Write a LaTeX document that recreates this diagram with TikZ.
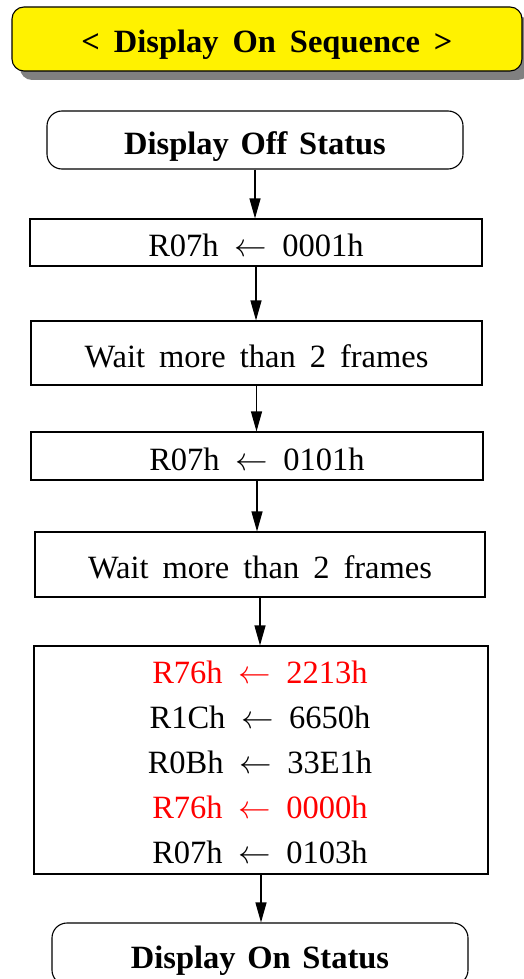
\documentclass[tikz,border=0pt]{standalone}
\usepackage{fix-cm}
\usepackage{fontspec}
\setmainfont{Liberation Serif}
\usetikzlibrary{arrows.meta,shadows}
\newcommand{\gp}{\hspace{0.43em}}
\newcommand{\gb}{\hspace{0.36em}}
\newcommand{\ar}{\hspace{0.48em}$\leftarrow$\hspace{0.48em}}
\begin{document}
\begin{tikzpicture}[x=1pt,y=-1pt,
  every node/.style={font=\fontsize{32.5}{38}\selectfont, inner sep=0pt},
  box/.style={draw, line width=1.1pt, text height=28pt, text depth=0pt, align=center},
  rbox/.style={box, rounded corners=15pt, font=\fontsize{32.5}{38}\selectfont\bfseries},
  titlebox/.style={box, fill=yellow, rounded corners=12pt, font=\fontsize{32.5}{38}\selectfont\bfseries,
    drop shadow={shadow xshift=8pt, shadow yshift=-9pt, fill=gray, opacity=1}},
  line/.style={anchor=base},
  arr/.style={line width=1.1pt, -{Triangle[length=20pt,width=11pt]}},
  hl/.style={text=red}
]
\useasboundingbox (0,0) rectangle (523,979);
\node[titlebox, minimum width=510pt, minimum height=64pt] (t) at (267,39) {<\gp Display\gp On\gp Sequence\gp>};
\node[rbox, minimum width=416pt, minimum height=58pt] (b1) at (255,140) {Display\gb Off\gb Status};
\node[box, minimum width=452pt, minimum height=47pt] (b2) at (256,242.5) {R07h\ar 0001h};
\node[box, minimum width=451pt, minimum height=64pt] (b3) at (256.5,353) {Wait\gp more\gp than\gp 2\gp frames};
\node[box, minimum width=452pt, minimum height=48pt] (b4) at (257,456) {R07h\ar 0101h};
\node[box, minimum width=450pt, minimum height=65pt] (b5) at (260,564.5) {Wait\gp more\gp than\gp 2\gp frames};
\node[box, minimum width=454pt, minimum height=228pt] (b6) at (261,760) {};
\node[line, hl] (l1) at (260,683) {R76h\ar 2213h};
\node[line] (l2) at (260,728.2) {R1Ch\ar 6650h};
\node[line] (l3) at (260,773.4) {R0Bh\ar 33E1h};
\node[line, hl] (l4) at (260,818.6) {R76h\ar 0000h};
\node[line] (l5) at (260,863.8) {R07h\ar 0103h};
\node[rbox, minimum width=416pt, minimum height=62pt] (b7) at (260,954) {Display\gb On\gb Status};
\draw[arr] (b1.south) -- (b1.south |- b2.north);
\draw[arr] (b2.south) -- (b2.south |- b3.north);
\draw[arr] (b3.south) -- (b3.south |- b4.north);
\draw[arr] (b4.south) -- (b4.south |- b5.north);
\draw[arr] (b5.south) -- (b5.south |- b6.north);
\draw[arr] (b6.south) -- (b6.south |- b7.north);
\end{tikzpicture}
\end{document}
